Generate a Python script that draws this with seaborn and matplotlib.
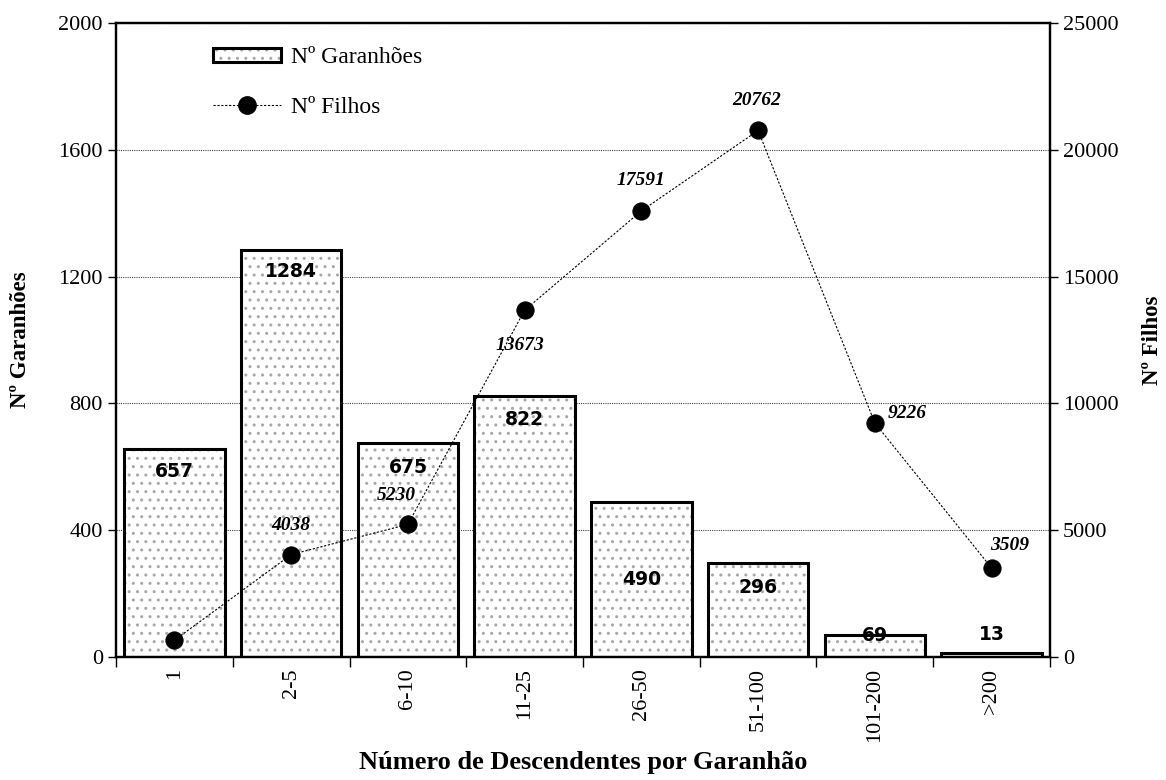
import numpy as np
import matplotlib
matplotlib.use('Agg')
import matplotlib.pyplot as plt
from matplotlib.patches import Patch
from matplotlib.lines import Line2D
from matplotlib.legend_handler import HandlerTuple
import seaborn as sns

# ── Data ──────────────────────────────────────────────────────
CATEGORIES = ["1", "2-5", "6-10", "11-25", "26-50", "51-100", "101-200", ">200"]
GARANHOES = [657, 1284, 675, 822, 490, 296, 69, 13]
FILHOS = [657, 4038, 5230, 13673, 17591, 20762, 9226, 3509]
FILHOS_SHOWN = [False, True, True, True, True, True, True, True]

# label offsets in pixels (style only)
BAR_LABEL_DY = [-23, -22, -24, -23, -78, -24, 0, 18]
LINE_LABEL_DXY = [(0, 0), (0, 29), (-12, 29), (-5, -35), (0, 30), (-2, 30), (32, 10), (18, 23)]

sns.set_theme(style='white')
plt.rcParams['font.family'] = ['Liberation Serif', 'DejaVu Serif']
plt.rcParams['hatch.linewidth'] = 1.0
plt.rcParams['text.color'] = 'black'
plt.rcParams['xtick.color'] = 'black'
plt.rcParams['ytick.color'] = 'black'
plt.rcParams['axes.labelcolor'] = 'black'

HATCH_GREY = '#a8a8a8'

fig = plt.figure(figsize=(11.66, 7.8), dpi=100)
ax = fig.add_axes([0.0995, 0.1577, 0.801, 0.8128])

# bars: grey dotted fill first, black outline on top
sns.barplot(x=CATEGORIES, y=GARANHOES, ax=ax, color='white', saturation=1,
            edgecolor=HATCH_GREY, linewidth=0, hatch='..', width=0.86, zorder=2)
sns.barplot(x=CATEGORIES, y=GARANHOES, ax=ax, color='black', fill=False,
            linewidth=2.2, width=0.86, zorder=3)

ax.set_ylim(0, 2000)
ax.set_yticks(np.arange(0, 2001, 400))
ax.set_xlim(-0.5, len(CATEGORIES) - 0.5)
ax.set_axisbelow(True)
ax.yaxis.grid(True, linestyle=(0, (1, 1)), color='#444444', linewidth=0.8)
ax.xaxis.grid(False)

for i, v in enumerate(GARANHOES):
    ax.annotate(str(v), (i, v), xytext=(0, BAR_LABEL_DY[i]), textcoords='offset pixels',
                ha='center', va='center', fontsize=13.5, fontweight='bold',
                family='DejaVu Sans', color='black', zorder=5)

# line on secondary axis
ax2 = ax.twinx()
sns.pointplot(x=CATEGORIES, y=FILHOS, ax=ax2, color='black', errorbar=None,
              marker='o', markersize=12.5, linestyle=(0, (2, 1.5)), linewidth=0.8)
ax2.set_ylim(0, 25000)
ax2.set_yticks(np.arange(0, 25001, 5000))
ax2.grid(False)

for i, v in enumerate(FILHOS):
    if not FILHOS_SHOWN[i]:
        continue
    dx, dy = LINE_LABEL_DXY[i]
    ax2.annotate(str(v), (i, v), xytext=(dx, dy), textcoords='offset pixels',
                 ha='center', va='center', fontsize=14, fontweight='bold',
                 fontstyle='italic', color='black')

# axes styling
ax.set_xticks(range(len(CATEGORIES)))
ax.set_xticklabels(CATEGORIES, rotation=90, fontsize=16)
ax.set_xticks(np.arange(-0.5, len(CATEGORIES), 1), minor=True)
ax.tick_params(axis='x', which='major', length=0, pad=8)
ax.tick_params(axis='x', which='minor', length=7, width=1, direction='out', bottom=True)
ax.tick_params(axis='y', length=6, width=1, direction='out', left=True, labelsize=16)
ax2.tick_params(axis='y', length=6, width=1, direction='out', right=True, labelsize=16)

for a in (ax, ax2):
    for s in a.spines.values():
        s.set_color('black')
        s.set_linewidth(1.6)

ax.set_xlabel('Número de Descendentes por Garanhão', fontsize=19, fontweight='bold', labelpad=6)
ax.set_ylabel('Nº Garanhões', fontsize=16.5, fontweight='bold', labelpad=20)
ax2.set_ylabel('Nº Filhos', fontsize=16.5, fontweight='bold', labelpad=17)

# legend
bar_handle = (Patch(facecolor='white', edgecolor=HATCH_GREY, hatch='..', linewidth=0),
              Patch(facecolor='none', edgecolor='black', linewidth=2.2))
line_handle = Line2D([], [], color='black', marker='o', markersize=12.5,
                     linestyle=(0, (2, 1.5)), linewidth=0.8)
ax2.legend([bar_handle, line_handle], ['Nº Garanhões', 'Nº Filhos'],
           handler_map={tuple: HandlerTuple(ndivide=1, pad=0)},
           loc='upper left', bbox_to_anchor=(0.091, 0.98), frameon=False,
           fontsize=17, handlelength=2.9, handleheight=0.55, labelspacing=1.2,
           handletextpad=0.4, borderpad=0)

fig.savefig('out.png', dpi=100)
